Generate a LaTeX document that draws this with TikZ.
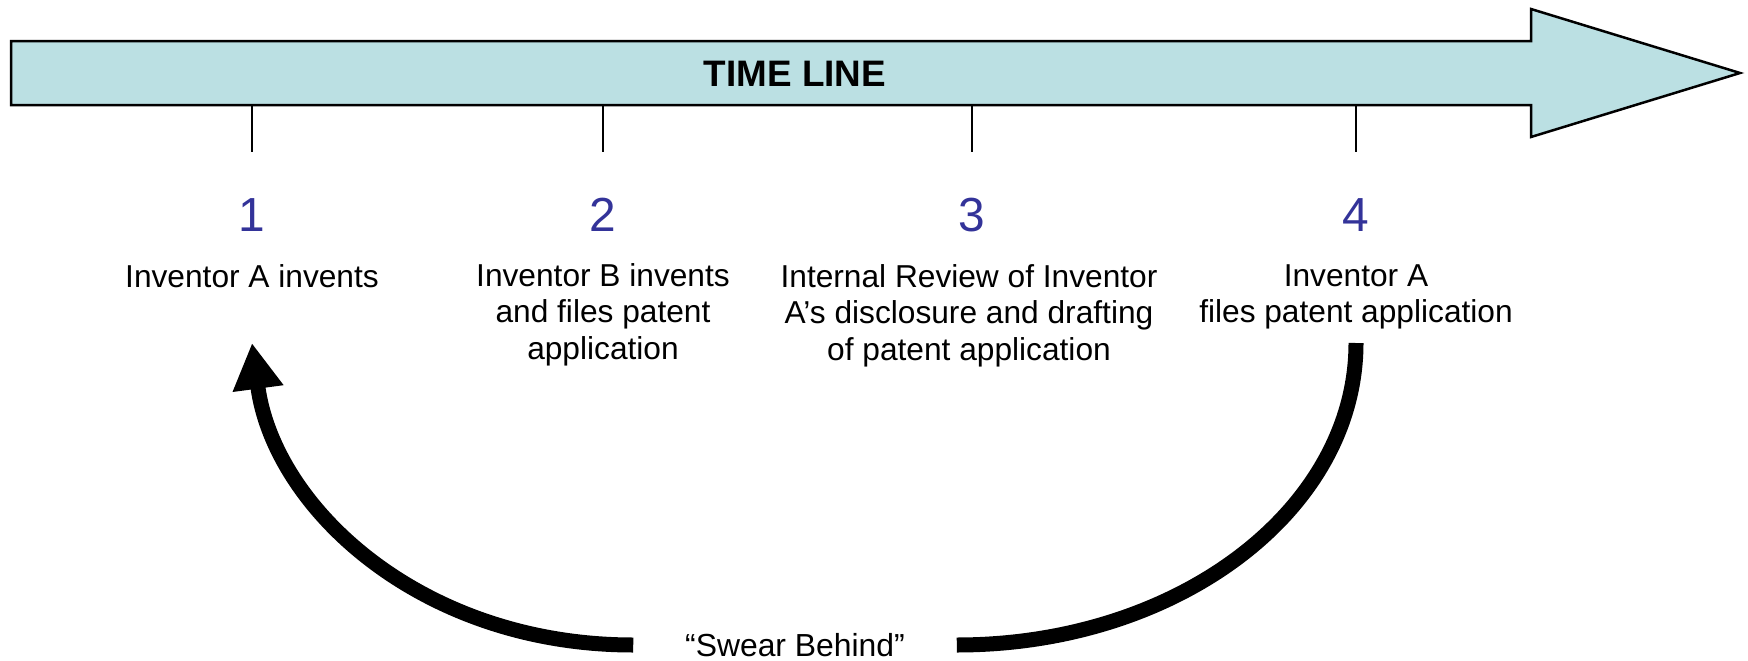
\documentclass[tikz,border=0pt]{standalone}
\usepackage{fontspec}
\setmainfont{Liberation Sans}
\usepackage{xcolor}
\usetikzlibrary{arrows.meta}

\definecolor{TLfill}{HTML}{BBE0E3}
\definecolor{TLblue}{HTML}{333399}
\tikzset{
	num/.style={text=TLblue,inner sep=0pt,font=\fontsize{24}{28}\selectfont},
	lbl/.style={anchor=north,align=center,inner sep=0pt,font=\fontsize{15.9}{18.3}\selectfont},
	tickline/.style={line width=1bp},
	swline/.style={line width=7.5bp}
}

\begin{document}
\begin{tikzpicture}[scale=0.5,>={Triangle[width=24bp,length=23bp]}]
	\useasboundingbox (0bp,0bp) rectangle (1748bp,-661bp);

	\draw[fill=TLfill,line width=1.25bp] (11bp,-41bp) -- (1531bp,-41bp) -- (1531bp,-9bp) -- (1740bp,-73bp)
		-- (1531bp,-137bp) -- (1531bp,-105bp) -- (11bp,-105bp) -- cycle;
	\node[font=\fontsize{18.5}{22}\selectfont\bfseries] (TL) at (795bp,-74bp) {TIME LINE};

	\foreach \x in {252,603,972,1356}
		\draw[tickline] (\x bp,-106bp) -- (\x bp,-152bp);

	\node[num] (n1) at (252bp,-215bp)  {1};
	\node[num] (n2) at (603bp,-215bp)  {2};
	\node[num] (n3) at (972bp,-215bp)  {3};
	\node[num] (n4) at (1356bp,-215bp) {4};

	\node[lbl] (l1) at (252bp,-264bp)  {Inventor A invents};
	\node[lbl] (l2) at (603bp,-263bp)  {Inventor B invents\\and files patent\\application};
	\node[lbl] (l3) at (969bp,-264bp)  {Internal Review of Inventor\\A’s disclosure and drafting\\of patent application};
	\node[lbl] (l4) at (1356bp,-264bp) {Inventor A\\files patent application};

	\coordinate (c4) at (1356bp,-343bp);
	\coordinate (t1) at (252bp,-343bp);
	\node[font=\fontsize{16}{19}\selectfont,inner xsep=25.75bp,inner ysep=0pt] (SB) at (795bp,-645bp) {“Swear Behind”};

	\draw[swline] (c4) .. controls +(0bp,-167bp) and +(221bp,0bp) .. (SB.east);
	\draw[swline,->] (SB.west) .. controls +(-212bp,0bp) and +(22bp,-165bp) .. (t1);
\end{tikzpicture}
\end{document}
